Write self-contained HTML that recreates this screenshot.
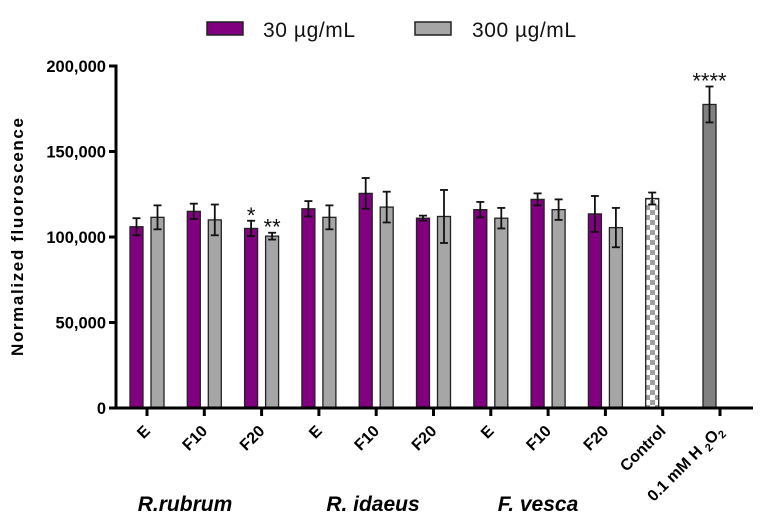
<!DOCTYPE html>
<html><head><meta charset="utf-8"><style>
html,body{margin:0;padding:0;background:#fff;}
svg{display:block;font-family:"Liberation Sans",Arial,sans-serif;}
</style></head><body>
<svg id="chart" width="762" height="527" viewBox="0 0 762 527">
<defs>
<pattern id="checker" width="10" height="10" patternUnits="userSpaceOnUse">
<rect width="10" height="10" fill="#fff"/><rect width="5" height="5" fill="#a0a0a0"/><rect x="5" y="5" width="5" height="5" fill="#a0a0a0"/>
</pattern>
</defs>
<g>
<rect x="207" y="22" width="36" height="13" fill="#800080" stroke="#222" stroke-width="1.5"/>
<text x="263" y="37" font-size="21" fill="#111" textLength="92">30 µg/mL</text>
<rect x="415" y="22" width="36" height="13" fill="#a6a6a6" stroke="#222" stroke-width="1.5"/>
<text x="472" y="37" font-size="21" fill="#111" textLength="104">300 µg/mL</text>
</g>
<text transform="translate(23,237) rotate(-90)" text-anchor="middle" font-size="17" font-weight="bold" textLength="238">Normalized fluoroscence</text>
<g id="plot"></g>
<text x="185" y="511" text-anchor="middle" font-size="21" font-weight="bold" font-style="italic">R.rubrum</text>
<text x="373" y="511" text-anchor="middle" font-size="21" font-weight="bold" font-style="italic">R. idaeus</text>
<text x="538" y="511" text-anchor="middle" font-size="21" font-weight="bold" font-style="italic">F. vesca</text>
</svg>
<script>
const categories = ["E","F10","F20","E","F10","F20","E","F10","F20","Control","H2O2"];
const values30 = [106000,115000,105000,116500,125500,111000,116000,122000,113500];
const err30 = [5000,4500,4500,4500,9000,1500,4500,3500,10500];
const values300 = [111500,110000,100500,111500,117500,112000,111000,116000,105500];
const err300 = [7000,9000,2000,7000,9000,15500,6000,6000,11500];
const controlValue = [122500];
const controlErr = [3500];
const h2o2Value = [177500];
const h2o2Err = [10500];
const yTicks = [0,50000,100000,150000,200000];
const yTickLabels = ["0","50,000","100,000","150,000","200,000"];
const stars = [{cat:2,series:0,text:"*"},{cat:2,series:1,text:"**"},{cat:10,series:0,text:"****"}];

const NS="http://www.w3.org/2000/svg";
const plot=document.getElementById('plot');
const y0=408, yTop=66, x0=116, x1=753;
function yS(v){return y0-(v/200000)*(y0-yTop);}
function xS(i){return 147+i*57.3;}
function mk(tag,attrs,parent){const e=document.createElementNS(NS,tag);for(const k in attrs)e.setAttribute(k,attrs[k]);(parent||plot).appendChild(e);return e;}
const BW=13, OFF=10.5;
function bar(cx,v,fill,name){
  const r=mk('rect',{x:cx-BW/2,y:yS(v),width:BW,height:y0-yS(v),fill:fill,stroke:'#222','stroke-width':1.3});
  
  
}
function errb(cx,v,e,name){
  const g=mk('g',{stroke:'#111','stroke-width':1.8,fill:'none'});
  
  
  mk('line',{x1:cx,x2:cx,y1:yS(v+e),y2:yS(v-e)},g);
  mk('line',{x1:cx-4,x2:cx+4,y1:yS(v+e),y2:yS(v+e)},g);
  mk('line',{x1:cx-4,x2:cx+4,y1:yS(v-e),y2:yS(v-e)},g);
}
for(let i=0;i<values30.length;i++){
  bar(xS(i)-OFF,values30[i],'#800080','bar-30-'+i);
  errb(xS(i)-OFF,values30[i],err30[i],'error-bar-30-'+i);
  bar(xS(i)+OFF,values300[i],'#a6a6a6','bar-300-'+i);
  errb(xS(i)+OFF,values300[i],err300[i],'error-bar-300-'+i);
}
bar(xS(9)-OFF,controlValue[0],'url(#checker)','bar-control');
errb(xS(9)-OFF,controlValue[0],controlErr[0],'error-bar-control');
bar(xS(10)-OFF,h2o2Value[0],'#808080','bar-h2o2');
errb(xS(10)-OFF,h2o2Value[0],h2o2Err[0],'error-bar-h2o2');
stars.forEach((s,k)=>{
  let v,e;
  if(s.cat===10){v=h2o2Value[0];e=h2o2Err[0];}
  else if(s.series===0){v=values30[s.cat];e=err30[s.cat];}
  else {v=values300[s.cat];e=err300[s.cat];}
  const cx=xS(s.cat)+(s.series===0?-OFF:OFF);
  const t=mk('text',{x:cx,y:yS(v+e)+2,'text-anchor':'middle','font-size':22,fill:'#111'});
  t.textContent=s.text;
  
  
});
const ax=mk('g',{stroke:'#000','stroke-width':3});


mk('line',{x1:x0,x2:x0,y1:yTop-1.5,y2:y0+1.5},ax);
mk('line',{x1:x0-1.5,x2:x1,y1:y0,y2:y0},ax);
yTicks.forEach((v,i)=>{
  mk('line',{x1:x0-7,x2:x0,y1:yS(v),y2:yS(v)},ax);
  const t=mk('text',{x:x0-10,y:yS(v)+6,'text-anchor':'end','font-size':16.5,'font-weight':'bold',fill:'#000'});
  t.textContent=yTickLabels[i];
  
  
});
categories.forEach((c,i)=>{
  mk('line',{x1:xS(i),x2:xS(i),y1:y0,y2:y0+8},ax);
  const t=mk('text',{transform:'translate('+(xS(i)+4)+',432) rotate(-45)','text-anchor':'end','font-size':16,'font-weight':'bold',fill:'#000'});
  if(c==='H2O2'){
    t.innerHTML='0.1 mM H <tspan font-size="11" dy="4">2</tspan><tspan dy="-4">O</tspan><tspan font-size="11" dy="4">2</tspan>';
  } else t.textContent=c;
  
  
});
</script>
</body></html>
